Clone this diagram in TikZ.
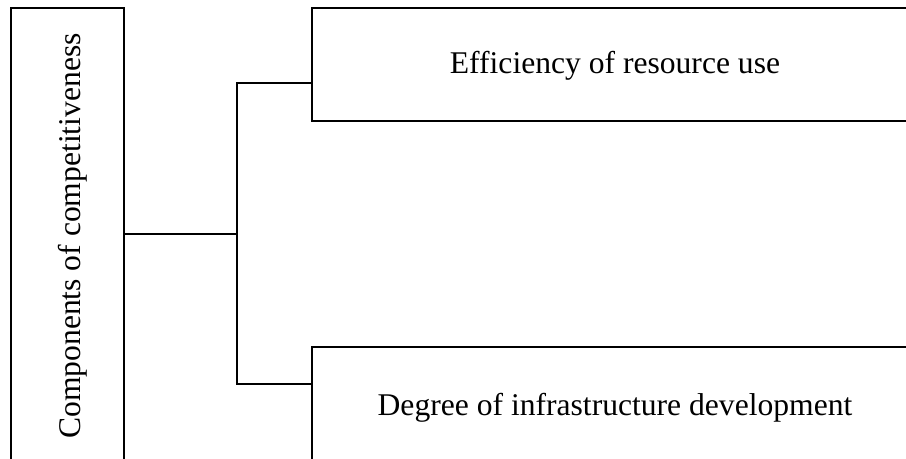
\documentclass[tikz,border=0pt]{standalone}
\usepackage{fontspec}
\setmainfont{Liberation Serif}
\tikzset{
  box/.style={draw, line width=1pt, rectangle, inner sep=0pt},
  lbl/.style={font=\fontsize{23.7}{28}\selectfont, anchor=base, inner sep=0pt},
  link/.style={line width=1pt}
}
\begin{document}
\begin{tikzpicture}[x=0.75pt, y=-0.75pt]
\useasboundingbox (0,0) rectangle (906,459);
\clip (0,0) rectangle (906,459);

\node[box, minimum width=84.75pt, minimum height=343.5pt] (comp) at (67.5, 237) {};
\node[box, minimum width=454.5pt, minimum height=84.75pt] (eff) at (615, 64.5) {};
\node[box, minimum width=454.5pt, minimum height=84.75pt] (infra) at (615, 403.5) {};

\node[lbl, rotate=90] (comptext) at (80, 236) {Components of competitiveness};
\node[lbl] (efftext) at (615, 74) {Efficiency of resource use};
\node[lbl] (infratext) at (615, 415) {Degree of infrastructure development};

\coordinate (fork) at (237, 234);
\coordinate (jtop) at (237, 83);
\coordinate (jbot) at (237, 384);

\draw[link] (comp.east |- fork) to (fork);
\draw[link] (jtop -| eff.west) to (jtop) to (jbot) to (jbot -| infra.west);
\end{tikzpicture}
\end{document}
